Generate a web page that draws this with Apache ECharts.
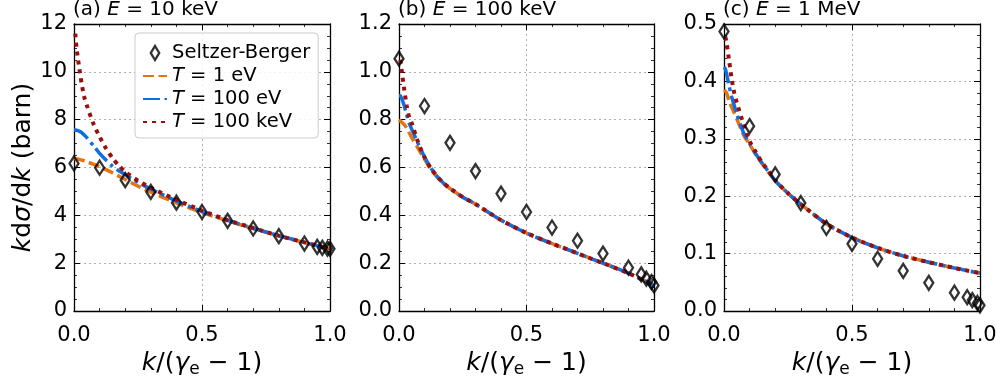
<!DOCTYPE html>
<html>
<head>
<meta charset="utf-8">
<script src="https://cdn.jsdelivr.net/npm/echarts@6/dist/echarts.min.js"></script>
<style>
html,body{margin:0;padding:0;background:#fff;}
#chart{width:996px;height:383px;}
</style>
</head>
<body>
<div id="chart"></div>
<script>
// ---- data ----
const sbX = [0, 0.1, 0.2, 0.3, 0.4, 0.5, 0.6, 0.7, 0.8, 0.9, 0.95, 0.97, 0.99, 1.0];
const sbA = [6.17, 5.99, 5.47, 4.98, 4.53, 4.14, 3.77, 3.45, 3.13, 2.82, 2.68, 2.64, 2.61, 2.6];
const sbB = [1.055, 0.857, 0.703, 0.585, 0.491, 0.414, 0.349, 0.294, 0.24, 0.181, 0.153, 0.135, 0.121, 0.107];
const sbC = [0.487, 0.322, 0.238, 0.188, 0.145, 0.117, 0.091, 0.070, 0.049, 0.032, 0.024, 0.019, 0.014, 0.010];

const curveX = [0, 0.005, 0.01, 0.02, 0.03, 0.04, 0.05, 0.075, 0.1, 0.125, 0.15, 0.175, 0.2, 0.25, 0.3, 0.4, 0.5, 0.6, 0.7, 0.8, 0.9, 1.0];

const aT1eV   = [6.38, 6.37, 6.36, 6.34, 6.31, 6.28, 6.24, 6.14, 6.03, 5.91, 5.78, 5.64, 5.50, 5.22, 4.97, 4.52, 4.12, 3.77, 3.45, 3.14, 2.86, 2.60];
const aT100eV = [7.57, 7.57, 7.56, 7.52, 7.46, 7.36, 7.25, 6.92, 6.59, 6.31, 6.06, 5.86, 5.70, 5.38, 5.10, 4.60, 4.16, 3.79, 3.46, 3.15, 2.87, 2.60];
const aT100keV= [null, 11.6, 11.0, 10.2, 9.5, 8.95, 8.6, 7.85, 7.29, 6.8, 6.4, 6.08, 5.82, 5.45, 5.15, 4.65, 4.2, 3.8, 3.47, 3.15, 2.87, 2.60];

const bT1eV   = [0.80, 0.795, 0.79, 0.78, 0.765, 0.745, 0.725, 0.68, 0.635, 0.593, 0.560, 0.533, 0.512, 0.476, 0.447, 0.38, 0.326, 0.282, 0.241, 0.200, 0.158, 0.107];
const bT100eV = [0.90, 0.90, 0.89, 0.86, 0.82, 0.785, 0.76, 0.70, 0.645, 0.598, 0.562, 0.534, 0.512, 0.476, 0.447, 0.38, 0.326, 0.282, 0.241, 0.200, 0.158, 0.107];
const bT100keV= [null, 1.05, 1.01, 0.93, 0.86, 0.81, 0.785, 0.705, 0.642, 0.597, 0.562, 0.535, 0.513, 0.477, 0.447, 0.38, 0.326, 0.282, 0.241, 0.200, 0.158, 0.107];

const cT1eV   = [0.385, 0.383, 0.38, 0.366, 0.355, 0.345, 0.335, 0.308, 0.29, 0.272, 0.256, 0.241, 0.227, 0.205, 0.186, 0.152, 0.128, 0.110, 0.096, 0.085, 0.075, 0.066];
const cT100eV = [0.425, 0.422, 0.413, 0.392, 0.373, 0.358, 0.343, 0.312, 0.292, 0.273, 0.257, 0.242, 0.227, 0.205, 0.186, 0.152, 0.128, 0.110, 0.096, 0.085, 0.075, 0.066];
const cT100keV= [null, 0.478, 0.467, 0.436, 0.404, 0.38, 0.363, 0.327, 0.296, 0.276, 0.258, 0.243, 0.228, 0.205, 0.186, 0.152, 0.128, 0.110, 0.096, 0.085, 0.075, 0.066];

const panelTitles = ['(a) {i|E} = 10 keV', '(b) {i|E} = 100 keV', '(c) {i|E} = 1 MeV'];
const yMax = [12, 1.2, 0.5];
const yInterval = [2, 0.2, 0.1];
const yDecimals = [0, 1, 1];
const seriesNames = ['Seltzer-Berger', 'T = 1 eV', 'T = 100 eV', 'T = 100 keV'];

// ---- layout ----
const FONT = 'DejaVu Sans';
const gridLeft = [74, 399, 724];
const gridW = [256, 255, 256];
const gridTop = 24, gridH = 287;
const COL_OR = '#e5730f', COL_BL = '#0f6fe0', COL_RD = '#9c0e0e';
const THIN_DIAMOND = 'path://M0,-10 L6,0 L0,10 L-6,0 Z';

const sbData = [sbA, sbB, sbC];
const curves = [[aT1eV, aT100eV, aT100keV], [bT1eV, bT100eV, bT100keV], [cT1eV, cT100eV, cT100keV]];

const nameRich = {
  i: {fontStyle: 'italic', fontFamily: FONT, fontSize: 25, color: '#000', lineHeight: 30},
  r: {fontFamily: FONT, fontSize: 25, color: '#000', lineHeight: 30},
  s: {fontFamily: FONT, fontSize: 17, color: '#000', verticalAlign: 'bottom', lineHeight: 12}
};

const grids = [], xAxes = [], yAxes = [], titles = [], series = [];
for (let p = 0; p < 3; p++) {
  grids.push({left: gridLeft[p], top: gridTop, width: gridW[p], height: gridH,
    containLabel: false, outerBoundsMode: 'none'});
  titles.push({
    text: panelTitles[p], left: gridLeft[p] - 1, top: 0, padding: 0,
    textStyle: {fontFamily: FONT, fontSize: 20, fontWeight: 'normal', color: '#000',
      rich: {i: {fontFamily: FONT, fontSize: 20, fontStyle: 'italic', color: '#000'}}}
  });
  const axLine = {show: true, onZero: false, lineStyle: {color: '#000', width: 1.3}};
  const tick = {show: true, inside: true, length: 6, lineStyle: {color: '#000', width: 1}};
  const minorX = {show: true, splitNumber: 5, length: 3, lineStyle: {color: '#000', width: 0.8}};
  const minorY = {show: true, splitNumber: p === 2 ? 5 : 4, length: 3, lineStyle: {color: '#000', width: 0.8}};
  const grid = {show: true, lineStyle: {color: '#b0b0b0', type: [2, 3], width: 1}};
  xAxes.push({
    gridIndex: p, type: 'value', min: 0, max: 1, interval: 0.5, position: 'bottom',
    axisLine: axLine, axisTick: tick, minorTick: minorX, splitLine: grid,
    axisLabel: {formatter: v => v.toFixed(1), fontFamily: FONT, fontSize: 21, color: '#000', margin: 14},
    name: '{i|k}{r|/(}{i|γ}{s|e}{r| − 1)}', nameLocation: 'middle', nameGap: 37,
    nameTextStyle: {fontFamily: FONT, fontSize: 25, color: '#000', rich: nameRich}
  });
  xAxes.push({
    gridIndex: p, type: 'value', min: 0, max: 1, interval: 0.5, position: 'top',
    axisLine: axLine, axisTick: tick, minorTick: minorX, splitLine: {show: false},
    axisLabel: {show: false}
  });
  yAxes.push({
    gridIndex: p, type: 'value', min: 0, max: yMax[p], interval: yInterval[p], position: 'left',
    axisLine: axLine, axisTick: tick, minorTick: minorY, splitLine: grid,
    axisLabel: {formatter: v => v.toFixed(yDecimals[p]), fontFamily: FONT, fontSize: 21, color: '#000', margin: 7},
    name: p === 0 ? '{i|k}{r|d}{i|σ}{r|/d}{i|k}{r| (barn)}' : '', nameLocation: 'middle', nameGap: 34,
    nameTextStyle: {fontFamily: FONT, fontSize: 25, color: '#000', rich: nameRich}
  });
  yAxes.push({
    gridIndex: p, type: 'value', min: 0, max: yMax[p], interval: yInterval[p], position: 'right',
    axisLine: axLine, axisTick: tick, minorTick: minorY,
    splitLine: {show: false}, axisLabel: {show: false}
  });

  const xi = p * 2, yi = p * 2;
  const styles = [
    {color: COL_OR, width: 3.5, type: [11, 4.5]},
    {color: COL_BL, width: 3.5, type: [17, 4.5, 3.5, 4.5]},
    {color: COL_RD, width: 4, type: [4, 5]}
  ];
  for (let c = 0; c < 3; c++) {
    series.push({
      name: seriesNames[c + 1], type: 'line', xAxisIndex: xi, yAxisIndex: yi,
      data: curveX.map((x, k) => [x, curves[p][c][k]]),
      showSymbol: false, symbol: 'none', smooth: 0.25, connectNulls: false,
      lineStyle: styles[c], itemStyle: {color: styles[c].color}, z: 2 + c, animation: false
    });
  }
  series.push({
    name: seriesNames[0], type: 'scatter', xAxisIndex: xi, yAxisIndex: yi,
    data: sbX.map((x, k) => [x, sbData[p][k]]),
    symbol: THIN_DIAMOND, symbolSize: [9, 14],
    itemStyle: {color: 'rgba(255,255,255,0)', borderColor: '#000', borderWidth: 2.4},
    z: 6, animation: false
  });
}

const legendLabel = {
  'Seltzer-Berger': 'Seltzer-Berger',
  'T = 1 eV': '{i|T} = 1 eV',
  'T = 100 eV': '{i|T} = 100 eV',
  'T = 100 keV': '{i|T} = 100 keV'
};

const chart = echarts.init(document.getElementById('chart'), null, {renderer: 'canvas'});
chart.setOption({
  backgroundColor: '#fff',
  animation: false,
  title: titles,
  grid: grids,
  xAxis: xAxes,
  yAxis: yAxes,
  legend: {
    data: [
      {name: seriesNames[0], icon: THIN_DIAMOND, itemStyle: {color: 'rgba(255,255,255,0)', borderColor: '#000', borderWidth: 2.4}},
      {name: seriesNames[1], itemStyle: {opacity: 0}},
      {name: seriesNames[2], itemStyle: {opacity: 0}},
      {name: seriesNames[3], itemStyle: {opacity: 0}}
    ],
    orient: 'vertical', left: 135, top: 33,
    itemWidth: 24, itemHeight: 14, itemGap: 3,
    padding: [10, 8, 6, 7],
    backgroundColor: 'rgba(255,255,255,0.85)', borderColor: '#cccccc', borderWidth: 1, borderRadius: 4,
    formatter: n => legendLabel[n],
    textStyle: {fontFamily: FONT, fontSize: 19.5, color: '#000', lineHeight: 18,
      rich: {i: {fontFamily: FONT, fontSize: 19.5, fontStyle: 'italic', color: '#000', lineHeight: 18}}},
    selectedMode: false
  },
  series: series
});
</script>
</body>
</html>
